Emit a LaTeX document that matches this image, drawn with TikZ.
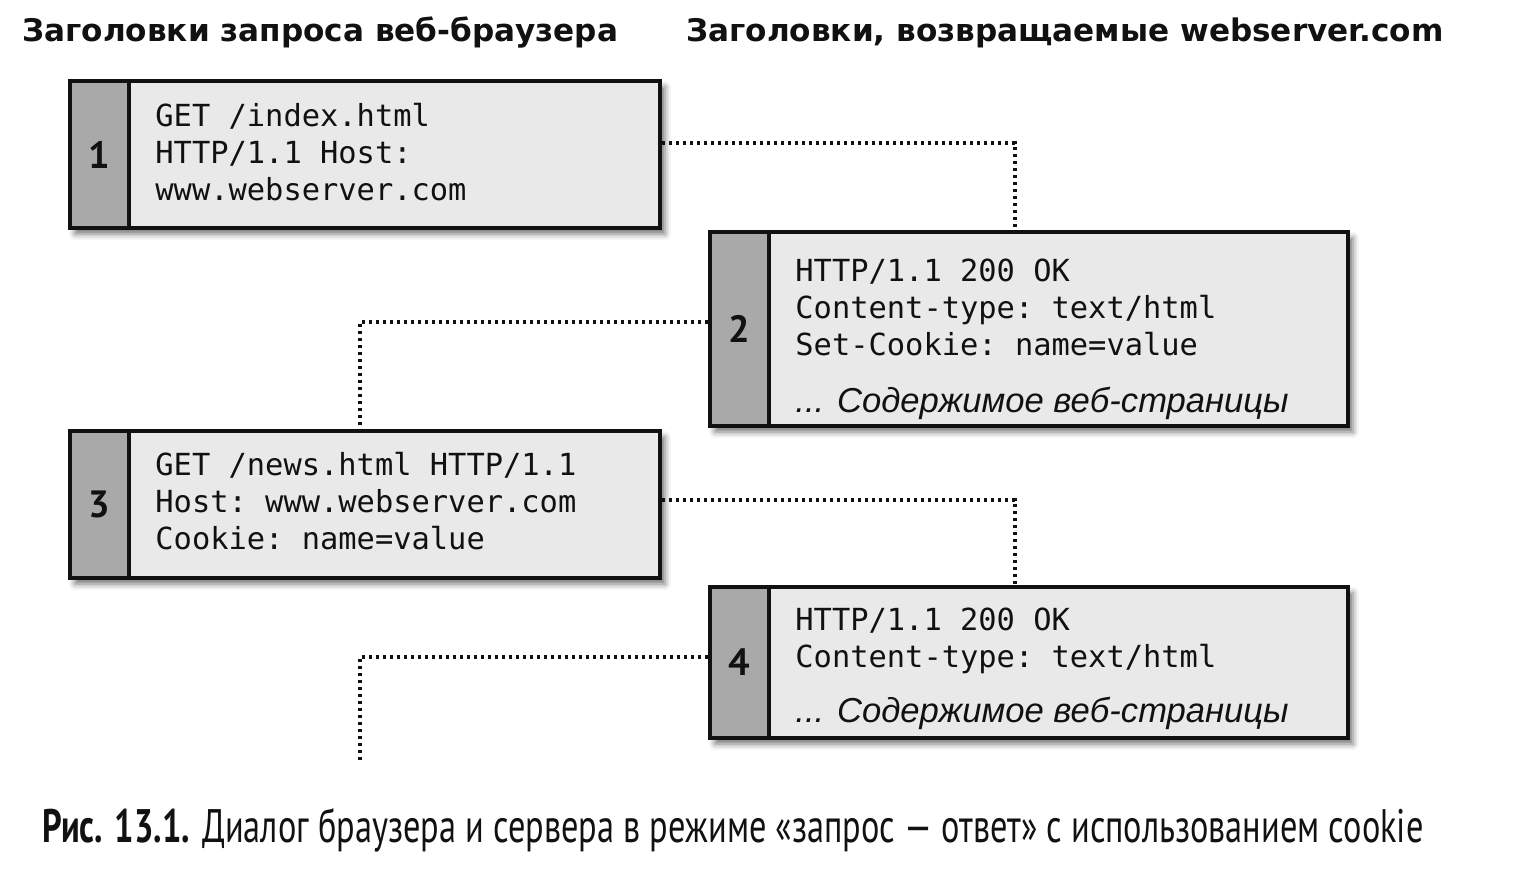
\documentclass[tikz,border=0pt]{standalone}
\usepackage{fontspec}
\setmainfont{DejaVu Sans}
\setmonofont{DejaVu Sans Mono}
\newfontfamily\capfont[FakeStretch=0.73]{PT Sans}
\newfontfamily\numfont{PT Sans}
\newfontfamily\itfont{Liberation Sans}
\usetikzlibrary{shadows.blur}
\definecolor{boxfill}{HTML}{E9E9E9}
\definecolor{numfill}{HTML}{A9A9A9}
\definecolor{ink}{HTML}{111111}
\begin{document}
\begin{tikzpicture}[x=0.5pt,y=-0.5pt,
  box/.style={draw=ink, line width=2pt, fill=boxfill, inner sep=0pt,
    anchor=north west,
    blur shadow={shadow xshift=2.5pt, shadow yshift=-3pt, shadow blur radius=3pt, shadow opacity=55}},
  numcol/.style={draw=ink, line width=2pt, fill=numfill, inner sep=0pt,
    anchor=north west, minimum width=29.5pt, font=\numfont\bfseries\fontsize{19}{19}\selectfont, text=ink},
  mono/.style={font=\ttfamily\fontsize{15.2}{18.5}\selectfont, align=left, anchor=west, inner sep=0pt, text=ink},
  itl/.style={font=\itfont\itshape\fontsize{17.3}{18}\selectfont, anchor=west, inner sep=0pt, text=ink},
  head/.style={font=\bfseries\fontsize{15.55}{18}\selectfont, anchor=west, inner sep=0pt, text=ink},
  conn/.style={draw=ink, line width=1.8pt, dash pattern=on 1.6pt off 1.9pt}
]
\useasboundingbox (0,0) rectangle (1515,879);

% headers
\node[head] (h1) at (22,33) {Заголовки запроса веб-браузера};
\node[head] (h2) at (686,33) {Заголовки, возвращаемые webserver.com};

% box 1
\node[box, minimum width=295pt, minimum height=73.5pt] (b1) at (68,79) {};
\node[numcol, minimum height=73.5pt] (n1) at (b1.north west) {1};
\node[mono] (t1) at (155,152) {GET /index.html\\HTTP/1.1 Host:\\www.webserver.com};

% box 2
\node[box, minimum width=319pt, minimum height=97pt] (b2) at (708,230) {};
\node[numcol, minimum height=97pt] (n2) at (b2.north west) {2};
\node[mono] (t2) at (795,307) {HTTP/1.1 200 OK\\Content-type: text/html\\Set-Cookie: name=value};
\node[itl] (i2) at (795,403) {... Содержимое веб-страницы};

% box 3
\node[box, minimum width=295pt, minimum height=73.5pt] (b3) at (68,429) {};
\node[numcol, minimum height=73.5pt] (n3) at (b3.north west) {3};
\node[mono] (t3) at (155,501) {GET /news.html HTTP/1.1\\Host: www.webserver.com\\Cookie: name=value};

% box 4
\node[box, minimum width=319pt, minimum height=75.5pt] (b4) at (708,585) {};
\node[numcol, minimum height=75.5pt] (n4) at (b4.north west) {4};
\node[mono] (t4) at (795,641) {HTTP/1.1 200 OK\\Content-type: text/html};
\node[itl] (i4) at (795,713) {... Содержимое веб-страницы};

% connectors
\coordinate (end4) at (360,760);
\draw[conn] (b1.east |- 0,143) -| (b2.north -| 1015,0);
\draw[conn] (b2.west |- 0,322) -| (b3.north -| 360,0);
\draw[conn] (b3.east |- 0,500) -| (b4.north -| 1015,0);
\draw[conn] (b4.west |- 0,657) -| (end4);

% caption
\node[font=\capfont\fontsize{23.5}{26}\selectfont, anchor=west, inner sep=0pt, text=ink] (cap) at (42,830)
  {\textbf{Рис. 13.1.} Диалог браузера и сервера в режиме «запрос — ответ» с использованием cookie};
\end{tikzpicture}
\end{document}
